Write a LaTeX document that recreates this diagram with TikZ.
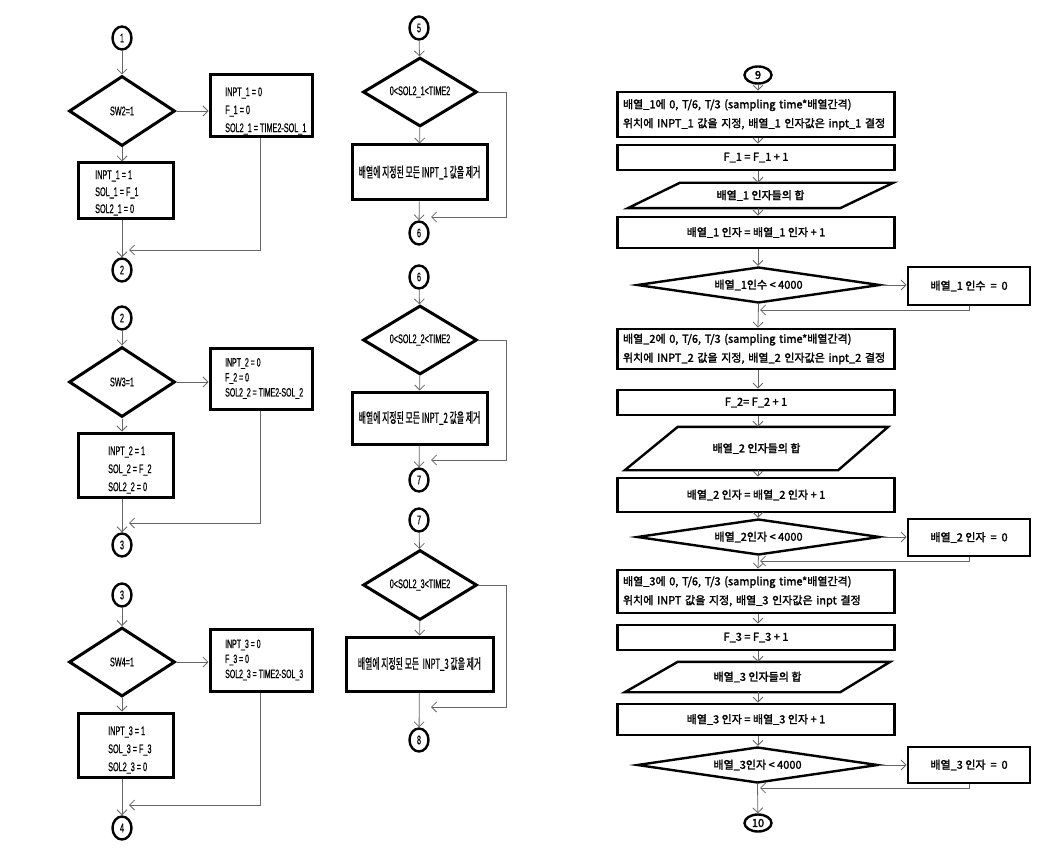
\documentclass[tikz,border=0pt]{standalone}
\usepackage{fontspec}
\usetikzlibrary{shapes.geometric,arrows.meta,calc}
\newfontfamily\narfam[FakeStretch=0.58,FakeBold=0.6]{Liberation Sans}
\newfontfamily\krnfam[FakeStretch=0.56,FakeBold=0.6]{Noto Sans CJK KR}
\newfontfamily\krbfam[FakeBold=2]{Noto Sans CJK KR}
\newcommand\fnL{\narfam\fontsize{12.5}{18}\selectfont}
\newcommand\fnB{\narfam\fontsize{12.5}{17}\selectfont}
\newcommand\fnS{\narfam\fontsize{12}{15}\selectfont}
\newcommand\fnM{\krnfam\fontsize{14}{15}\selectfont}
\newcommand\fnR{\krbfam\fontsize{11}{19}\selectfont}
\begin{document}
\begin{tikzpicture}[x=1pt,y=-1pt,
  conn/.style={draw=black!60, line width=0.8pt},
  arr/.style={conn, -{Straight Barb[length=5pt,width=10pt,line width=0.8pt]}},
  box/.style={draw, line width=3pt, rectangle, inner sep=0pt},
  dia/.style={draw, line width=3pt, diamond, inner sep=0pt},
  con/.style={draw, line width=2.4pt, ellipse, inner sep=0pt, minimum width=19pt, minimum height=23pt, font=\fnL},
  txt/.style={inner sep=0pt, anchor=west, align=left},
  fL/.style={font=\fnL}, fB/.style={font=\fnB}, fS/.style={font=\fnS}, fM/.style={font=\fnM}, fR/.style={font=\fnR}]
\useasboundingbox (0,0) rectangle (1055,853);

% ---------------- left column ----------------
% block 1
\node[con] (c1) at (122,38) {1};
\node[dia, fL, aspect=1.5, minimum width=106pt, minimum height=70pt] (d1) at (122,111) {SW2=1};
\node[box, minimum width=102pt, minimum height=62pt] (r1) at (261,106) {};
\node[txt, fL] (r1t) at (225,111) {INPT\_1 = 0\\F\_1 = 0\\SOL2\_1 = TIME2-SOL\_1};
\node[box, minimum width=95pt, minimum height=56pt] (b1) at (125.5,191) {};
\node[txt, fB] (b1t) at (95,193) {INPT\_1 = 1\\SOL\_1 = F\_1\\SOL2\_1 = 0};
\node[con] (c2) at (122,270) {2};
\coordinate (j1) at (129,250);
\draw[arr] (c1) -- (d1);
\draw[arr] (d1.east) -- (d1.east -| r1.west);
\draw[arr] (d1.south) -- (d1.south |- b1.north);
\draw[arr] (b1.south -| c2) -- (c2);
\draw[arr] (r1.south -| 260,0) |- (j1);

% block 2
\node[con] (c2b) at (122,318) {2};
\node[dia, fL, aspect=1.5, minimum width=106pt, minimum height=70pt] (d2) at (122,382) {SW3=1};
\node[box, minimum width=102pt, minimum height=61pt] (r2) at (261,378.5) {};
\node[txt, fS] (r2t) at (225,378.5) {INPT\_2 = 0\\F\_2 = 0\\SOL2\_2 = TIME2-SOL\_2};
\node[box, minimum width=95pt, minimum height=64pt] (b2) at (125.5,465) {};
\node[txt, fL] (b2t) at (108,470) {INPT\_2 = 1\\SOL\_2 = F\_2\\SOL2\_2 = 0};
\node[con] (c3) at (122,545) {3};
\coordinate (j2) at (129,523);
\draw[arr] (c2b) -- (d2);
\draw[arr] (d2.east) -- (d2.east -| r2.west);
\draw[arr] (d2.south) -- (d2.south |- b2.north);
\draw[arr] (b2.south -| c3) -- (c3);
\draw[arr] (r2.south -| 260,0) |- (j2);

% block 3
\node[con] (c3b) at (122,595) {3};
\node[dia, fL, aspect=1.5, minimum width=106pt, minimum height=69pt] (d3) at (122,662) {SW4=1};
\node[box, minimum width=102pt, minimum height=62pt] (r3) at (261,660) {};
\node[txt, fS] (r3t) at (225,660) {INPT\_3 = 0\\F\_3 = 0\\SOL2\_3 = TIME2-SOL\_3};
\node[box, minimum width=95pt, minimum height=64pt] (b3) at (125.5,745) {};
\node[txt, fL] (b3t) at (108,750) {INPT\_3 = 1\\SOL\_3 = F\_3\\SOL2\_3 = 0};
\node[con] (c4) at (122,828) {4};
\coordinate (j3) at (129,805);
\draw[arr] (c3b) -- (d3);
\draw[arr] (d3.east) -- (d3.east -| r3.west);
\draw[arr] (d3.south) -- (d3.south |- b3.north);
\draw[arr] (b3.south -| c4) -- (c4);
\draw[arr] (r3.south -| 260,0) |- (j3);

% ---------------- middle column ----------------
\node[con] (c5) at (419,28) {5};
\node[dia, fL, aspect=1.65, minimum width=114pt, minimum height=69pt] (d5) at (420,92) {0<SOL2\_1<TIME2};
\node[box, fM, minimum width=135pt, minimum height=55pt] (m5) at (419.5,172.5) {배열에 지정된 모든 INPT\_1 값을 제거};
\node[con] (c6) at (419,233) {6};
\coordinate (k5) at (506,217); \coordinate (j5) at (431,217);
\draw[arr] (c5) -- (d5);
\draw[arr] (d5) -- (m5);
\draw[arr] (m5) -- (c6);
\draw[arr] (d5.east) -| (k5) -- (j5);

\node[con] (c6b) at (419,277) {6};
\node[dia, fL, aspect=1.65, minimum width=114pt, minimum height=69pt] (d6) at (420,340) {0<SOL2\_2<TIME2};
\node[box, fM, minimum width=135pt, minimum height=52pt] (m6) at (419.5,418) {배열에 지정된 모든 INPT\_2 값을 제거};
\node[con] (c7) at (419,480) {7};
\coordinate (k6) at (506,460); \coordinate (j6) at (431,460);
\draw[arr] (c6b) -- (d6);
\draw[arr] (d6) -- (m6);
\draw[arr] (m6) -- (c7);
\draw[arr] (d6.east) -| (k6) -- (j6);

\node[con] (c7b) at (419,520) {7};
\node[dia, fL, aspect=1.65, minimum width=114pt, minimum height=70pt] (d7) at (420,585) {0<SOL2\_3<TIME2};
\node[box, fM, minimum width=147pt, minimum height=54pt] (m7) at (419.5,664) {배열에 지정된 모든 \ INPT\_3 값을 제거};
\node[con] (c8) at (419,740) {8};
\coordinate (k7) at (506,707); \coordinate (j7) at (431,707);
\draw[arr] (c7b) -- (d7);
\draw[arr] (d7) -- (m7);
\draw[arr] (m7) -- (c8);
\draw[arr] (d7.east) -| (k7) -- (j7);

% ---------------- right column ----------------
\begin{scope}[box/.append style={line width=2.8pt, fR}, dia/.append style={line width=2.4pt, fR}]
\node[con, fR, minimum width=27pt, minimum height=17pt] (c9) at (758,75) {9};
% group 1
\node[box, minimum width=277pt, minimum height=45pt, align=left, text width=266pt] (bb1) at (756,114.5)
  {배열\_1에 0, T/6, T/3 (sampling time*배열간격)\\위치에 INPT\_1 값을 지정, 배열\_1 인자값은 inpt\_1 결정};
\node[box, minimum width=277pt, minimum height=25pt] (ff1) at (756,157.5) {F\_1 = F\_1 + 1};
\node[fR, inner sep=0pt, minimum width=265pt, minimum height=25pt] (pp1) at (760.5,195.5) {배열\_1 인자들의 합};
\draw[line width=2.4pt] ($(pp1.north west)+(52,0)$) -- (pp1.north east) -- ($(pp1.south east)-(53,0)$) -- (pp1.south west) -- cycle;
\node[box, minimum width=277pt, minimum height=31pt] (cc1) at (756,232.5) {배열\_1 인자 = 배열\_1 인자 + 1};
\node[dia, aspect=6.75, minimum width=243pt, minimum height=36pt] (dd1) at (758.5,285) {배열\_1인수 < 4000};
\node[box, minimum width=122pt, minimum height=38pt] (rr1) at (969,286) {배열\_1 인수~~=~~0};
\coordinate (q1) at (760,310);
\draw[arr] (c9) -- (c9 |- bb1.north);
\draw[arr] (bb1.south -| c9) -- (ff1.north -| c9);
\draw[arr] (ff1.south -| c9) -- (pp1.north -| c9);
\draw[arr] (pp1.south -| c9) -- (cc1.north -| c9);
\draw[arr] (cc1.south -| c9) -- (dd1.north -| c9);
\draw[arr] (dd1.east) -- (dd1.east -| rr1.west);
\draw[arr] (rr1.south) |- (q1);
% group 2
\node[box, minimum width=277pt, minimum height=40pt, align=left, text width=266pt] (bb2) at (756,349)
  {배열\_2에 0, T/6, T/3 (sampling time*배열간격)\\위치에 INPT\_2 값을 지정, 배열\_2 인자값은 inpt\_2 결정};
\node[box, minimum width=277pt, minimum height=25pt] (ff2) at (756,402.5) {F\_2= F\_2 + 1};
\node[fR, inner sep=0pt, minimum width=263pt, minimum height=43pt] (pp2) at (756.5,448.5) {배열\_2 인자들의 합};
\draw[line width=2.4pt] ($(pp2.north west)+(53,0)$) -- (pp2.north east) -- ($(pp2.south east)-(50,0)$) -- (pp2.south west) -- cycle;
\node[box, minimum width=277pt, minimum height=34pt] (cc2) at (756,495) {배열\_2 인자 = 배열\_2 인자 + 1};
\node[dia, aspect=6.75, minimum width=243pt, minimum height=36pt] (dd2) at (758.5,537) {배열\_2인자 < 4000};
\node[box, minimum width=122pt, minimum height=37pt] (rr2) at (969,537.5) {배열\_2 인자~~=~~0};
\coordinate (q2) at (760,561);
\draw[arr] (dd1.south) -- (bb2.north -| c9);
\draw[arr] (bb2.south -| c9) -- (ff2.north -| c9);
\draw[arr] (ff2.south -| c9) -- (pp2.north -| c9);
\draw[arr] (pp2.south -| c9) -- (cc2.north -| c9);
\draw[arr] (cc2.south -| c9) -- (dd2.north -| c9);
\draw[arr] (dd2.east) -- (dd2.east -| rr2.west);
\draw[arr] (rr2.south) |- (q2);
% group 3
\node[box, minimum width=277pt, minimum height=43pt, align=left, text width=266pt] (bb3) at (756,591.5)
  {배열\_3에 0, T/6, T/3 (sampling time*배열간격)\\위치에 INPT 값을 지정, 배열\_3 인자값은 inpt 결정};
\node[box, minimum width=277pt, minimum height=25pt] (ff3) at (756,637.5) {F\_3 = F\_3 + 1};
\node[fR, inner sep=0pt, minimum width=265pt, minimum height=30pt] (pp3) at (757.5,677) {배열\_3 인자들의 합};
\draw[line width=2.4pt] ($(pp3.north west)+(53,0)$) -- (pp3.north east) -- ($(pp3.south east)-(50,0)$) -- (pp3.south west) -- cycle;
\node[box, minimum width=277pt, minimum height=31pt] (cc3) at (756,719.5) {배열\_3 인자 = 배열\_3 인자 + 1};
\node[dia, aspect=6.7, minimum width=241pt, minimum height=36pt] (dd3) at (757.5,765) {배열\_3인자 < 4000};
\node[box, minimum width=122pt, minimum height=36pt] (rr3) at (969,765) {배열\_3 인자~~=~~0};
\coordinate (q3) at (760,788);
\node[con, fR, minimum width=27pt, minimum height=17pt] (c10) at (758,823) {10};
\draw[arr] (dd2.south) -- (bb3.north -| c9);
\draw[arr] (bb3.south -| c9) -- (ff3.north -| c9);
\draw[arr] (ff3.south -| c9) -- (pp3.north -| c9);
\draw[arr] (pp3.south -| c9) -- (cc3.north -| c9);
\draw[arr] (cc3.south -| c9) -- (dd3.north -| c9);
\draw[arr] (dd3.east) -- (dd3.east -| rr3.west);
\draw[arr] (rr3.south) |- (q3);
\draw[arr] (dd3.south) -- (c10);
\end{scope}
\end{tikzpicture}
\end{document}
